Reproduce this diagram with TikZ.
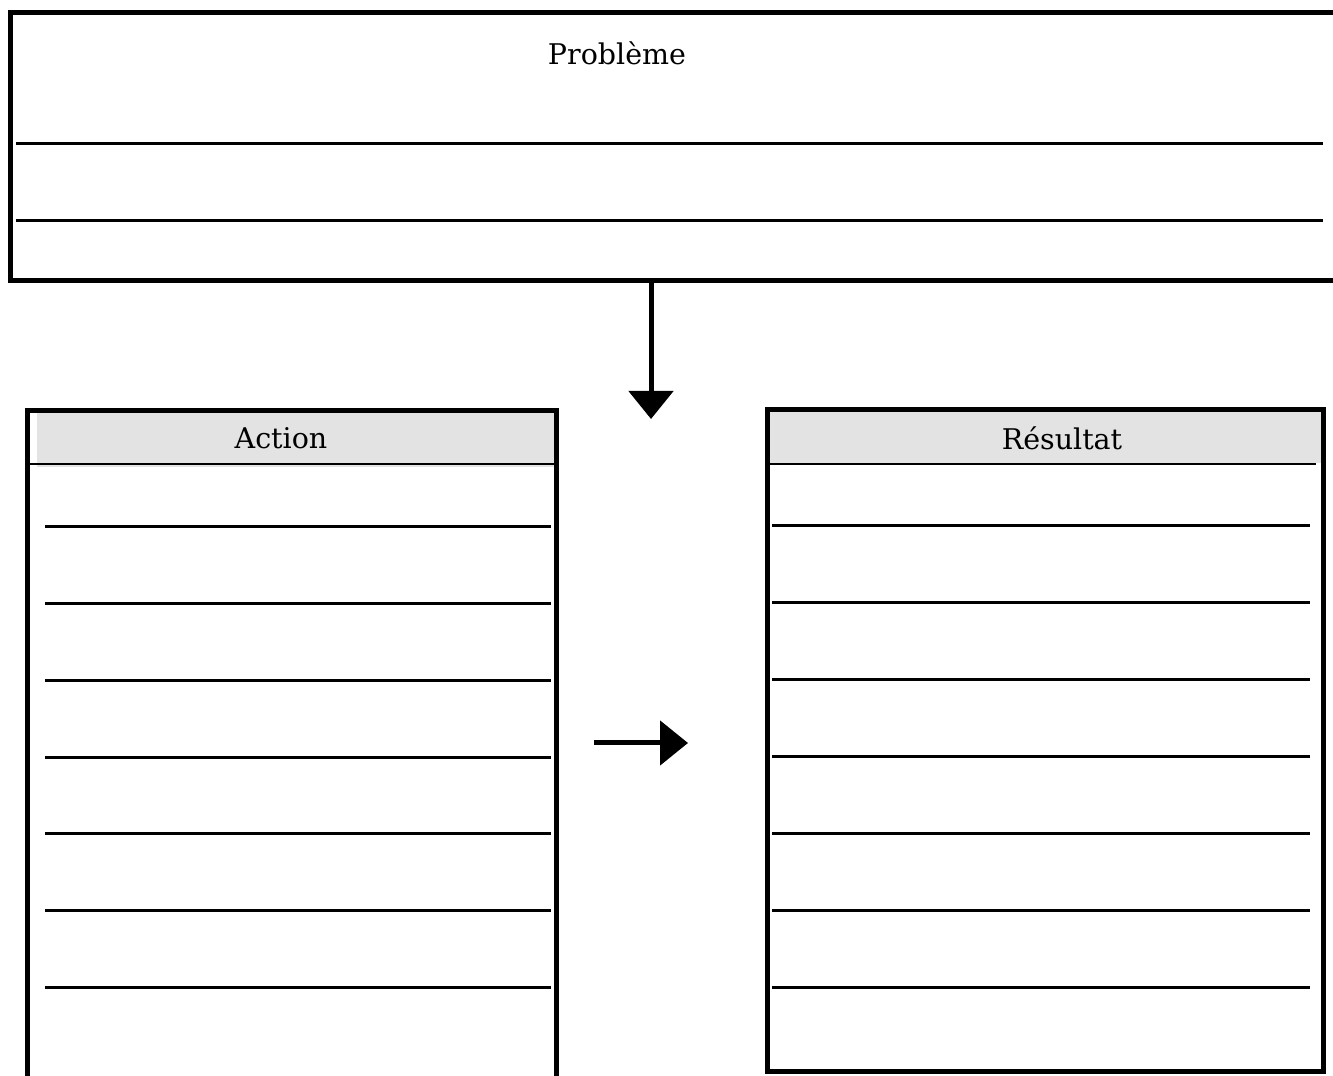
\documentclass[tikz,border=0pt]{standalone}
\usepackage{fontspec}
\setmainfont{DejaVu Serif}
\usepackage{tikz}
\usetikzlibrary{arrows.meta}

\begin{document}
\begin{tikzpicture}[
  x=1pt, y=1pt,
  panel/.style={draw, line width=5pt, rectangle, outer sep=0pt, inner sep=0pt, anchor=north west},
  rule/.style={line width=3pt},
  head/.style={fill=black!11, draw=none},
  title/.style={font=\fontsize{28.5}{34}\selectfont, inner sep=0pt},
  flow/.style={line width=5pt, -{Triangle[length=28pt, width=44pt]}}
]
\clip (0,0) rectangle (1333,1076);

% top box
\node[panel, minimum width=1334.5pt, minimum height=268pt] (prob) at (10.5,1063) {};
\node[title] (probtxt) at (617,1023) {Problème};
\foreach \y in {932,855}
  \draw[rule] (16,\y) -- (1323,\y);

% action column
\fill[head] (37,663) rectangle (554,609);
\draw[line width=2.6pt] (30,612) -- (554,612);
\node[panel, minimum width=529pt, minimum height=676pt] (action) at (27.5,665.5) {};
\node[title] (actiontxt) at (281,638) {Action};
\foreach \y in {549,472,395,318,242,165,88}
  \draw[rule] (45,\y) -- (551,\y);

% result column
\fill[head] (770,664) rectangle (1321,613);
\draw[line width=2.6pt] (768,612) -- (1316,612);
\node[panel, minimum width=556pt, minimum height=662pt] (result) at (767.5,666.5) {};
\node[title] (resulttxt) at (1062,638) {Résultat};
\foreach \y in {550,473,396,319,242,165,88}
  \draw[rule] (772,\y) -- (1310,\y);

% arrows
\coordinate (down) at (651,657);
\coordinate (from) at (594,333);
\coordinate (to) at (688,333);
\draw[flow] (prob.south -| down) -- (down);
\draw[flow] (from) -- (to);
\end{tikzpicture}
\end{document}
